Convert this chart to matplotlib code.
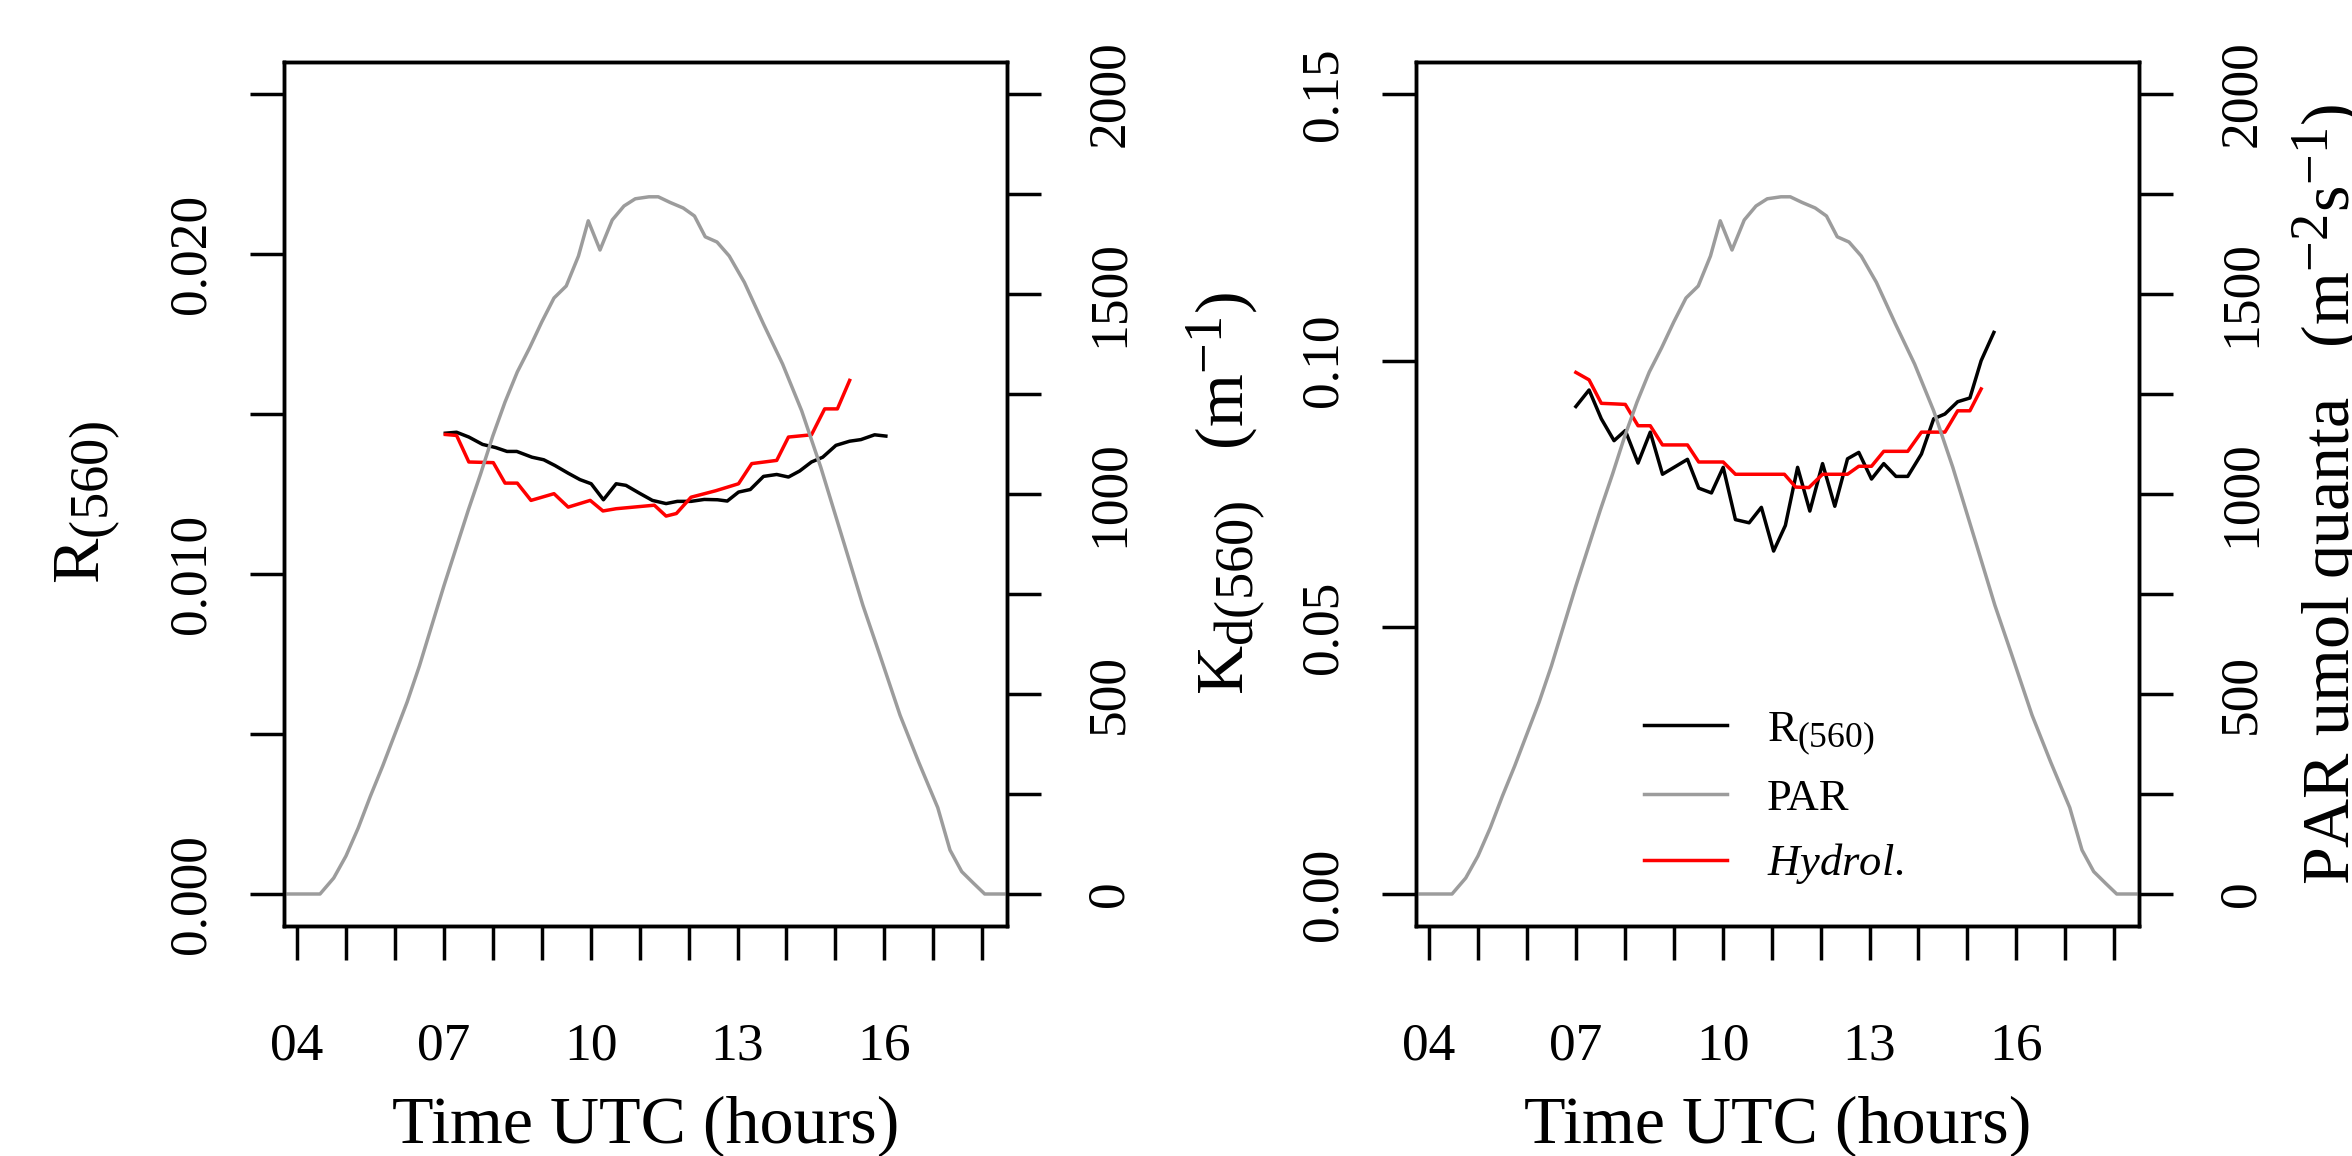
import matplotlib
matplotlib.use('Agg')
import matplotlib.pyplot as plt
try:
    import matplotlib._mathtext as _mt
    _mt.SHRINK_FACTOR = 0.8
except Exception:
    pass

plt.rcParams['font.family'] = ['Liberation Serif', 'DejaVu Serif']
plt.rcParams['mathtext.fontset'] = 'custom'
plt.rcParams['mathtext.rm'] = 'Liberation Serif'
plt.rcParams['mathtext.it'] = 'Liberation Serif:italic'
plt.rcParams['mathtext.bf'] = 'Liberation Serif:bold'

# ---------------- data ----------------
par_time = [3.70, 4.00, 4.25, 4.47, 4.75, 5.00, 5.25, 5.50, 5.75, 6.00, 6.25, 6.50,
            6.75, 7.00, 7.25, 7.50, 7.75, 8.00, 8.25, 8.50, 8.75, 9.00, 9.25, 9.50,
            9.75, 9.95, 10.19, 10.44, 10.68, 10.91, 11.19, 11.38, 11.62, 11.89, 12.12,
            12.34, 12.58, 12.83, 13.14, 13.53, 13.92, 14.31, 14.70, 14.98, 15.21, 15.56,
            15.90, 16.32, 16.70, 17.09, 17.34, 17.58, 17.82, 18.05, 18.55]
par_values = [0, 0, 0, 0, 40, 95, 165, 245, 320, 400, 480, 570,
              670, 770, 865, 960, 1050, 1145, 1230, 1305, 1365, 1430, 1490, 1520,
              1595, 1683, 1610, 1685, 1720, 1738, 1743, 1743, 1729, 1715, 1695,
              1643, 1630, 1595, 1529, 1425, 1325, 1208, 1067, 955, 863, 722,
              600, 447, 330, 216, 110, 56, 27, 0, 0]

r560_time = [7.03, 7.26, 7.51, 7.79, 8.06, 8.29, 8.49, 8.80, 9.04, 9.27, 9.54, 9.78,
             10.01, 10.26, 10.52, 10.72, 10.99, 11.26, 11.54, 11.77, 12.05, 12.32, 12.59,
             12.79, 13.02, 13.26, 13.53, 13.80, 14.04, 14.27, 14.51, 14.74, 15.01, 15.29,
             15.52, 15.80, 16.03]
r560_values = [0.01440, 0.01443, 0.01428, 0.01405, 0.01395, 0.01383, 0.01383, 0.01365,
               0.01357, 0.01339, 0.01315, 0.01295, 0.01282, 0.01232, 0.01282, 0.01277,
               0.01253, 0.01230, 0.01220, 0.01227, 0.01227, 0.01233, 0.01232, 0.01228,
               0.01256, 0.01264, 0.01305, 0.01311, 0.01303, 0.01322, 0.01350, 0.01365,
               0.01402, 0.01415, 0.01420, 0.01435, 0.01431]

hydrol_r_time = [7.03, 7.26, 7.51, 8.01, 8.25, 8.50, 8.78, 9.25, 9.54, 9.99, 10.25,
                 10.52, 11.30, 11.54, 11.75, 12.05, 12.55, 13.02, 13.29, 13.80, 14.04,
                 14.51, 14.78, 15.04, 15.29]
hydrol_r_values = [0.01436, 0.01433, 0.01350, 0.01348, 0.01284, 0.01284, 0.01230,
                   0.01251, 0.01209, 0.01230, 0.01197, 0.01204, 0.01215, 0.01181,
                   0.01189, 0.01240, 0.01260, 0.01282, 0.01345, 0.01355, 0.01428,
                   0.01435, 0.01516, 0.01516, 0.01605]

kd_time = [7.00, 7.27, 7.52, 7.78, 8.01, 8.27, 8.52, 8.77, 9.28, 9.51, 9.77, 10.01,
           10.26, 10.54, 10.79, 11.04, 11.28, 11.53, 11.78, 12.04, 12.29, 12.55, 12.78,
           13.04, 13.29, 13.54, 13.78, 14.06, 14.31, 14.54, 14.80, 15.05, 15.28, 15.54]
kd_values = [0.0914, 0.0945, 0.0891, 0.0850, 0.0869, 0.0808, 0.0866, 0.0787, 0.0815,
             0.0761, 0.0752, 0.0800, 0.0702, 0.0696, 0.0725, 0.0643, 0.0691, 0.0800,
             0.0718, 0.0807, 0.0727, 0.0816, 0.0828, 0.0778, 0.0807, 0.0783, 0.0783,
             0.0825, 0.0891, 0.0900, 0.0923, 0.0930, 0.1000, 0.1053]

hydrol_kd_time = [7.00, 7.27, 7.52, 7.78, 8.01, 8.27, 8.52, 8.77, 9.28, 9.51, 10.01,
                  10.26, 11.26, 11.49, 11.76, 12.04, 12.55, 12.78, 13.04, 13.29, 13.78,
                  14.06, 14.31, 14.54, 14.80, 15.05, 15.28]
hydrol_kd_values = [0.0978, 0.0964, 0.0920, 0.0919, 0.0918, 0.0878, 0.0878, 0.0842,
                    0.0842, 0.0810, 0.0810, 0.0787, 0.0787, 0.0763, 0.0762, 0.0787,
                    0.0787, 0.0802, 0.0802, 0.0830, 0.0830, 0.0866, 0.0866, 0.0866,
                    0.0906, 0.0906, 0.0947]

x_ticks = list(range(4, 19))
x_tick_labels = ['04', '', '', '07', '', '', '10', '', '', '13', '', '', '16', '', '']
r_ticks = [0.0, 0.005, 0.010, 0.015, 0.020, 0.025]
r_tick_labels = ['0.000', '', '0.010', '', '0.020', '']
kd_ticks = [0.0, 0.05, 0.10, 0.15]
kd_tick_labels = ['0.00', '0.05', '0.10', '0.15']
par_ticks = [0, 250, 500, 750, 1000, 1250, 1500, 1750, 2000]
par_tick_labels = ['0', '', '500', '', '1000', '', '1500', '', '2000']

legend_labels = [r'$\mathrm{R}_{(560)}$', 'PAR', r'$\mathit{Hydrol.}$']

# ---------------- styling ----------------
W, H = 2352, 1156
DPI = 100
TICK_FS = 38.5
LAB_FS = 49
LEG_FS = 32
LW = 2.5
TICK_LEN = 24.5
GREY = '#9c9c9c'

fig = plt.figure(figsize=(W / DPI, H / DPI), dpi=DPI)

def px_axes(x0, y_top, w, h):
    return fig.add_axes([x0 / W, 1 - (y_top + h) / H, w / W, h / H])

ax1 = px_axes(284, 62, 723.3, 864)
ax2 = px_axes(1416, 62, 723.3, 864)

XLIM = (3.734, 18.511)

def style_main(ax, yticks, ylabels, ylim):
    ax.set_xlim(*XLIM)
    ax.set_ylim(*ylim)
    ax.set_xticks(x_ticks)
    ax.set_xticklabels(x_tick_labels)
    ax.set_yticks(yticks)
    ax.set_yticklabels(ylabels)
    for s in ax.spines.values():
        s.set_linewidth(LW)
    ax.tick_params(axis='both', direction='out', length=TICK_LEN, width=LW,
                   labelsize=TICK_FS)
    ax.tick_params(axis='x', pad=45)
    ax.tick_params(axis='y', pad=25, labelrotation=90)
    for t in ax.get_yticklabels():
        t.set_va('center')

def style_par(ax):
    ax.set_xlim(*XLIM)
    ax.set_ylim(-80, 2080)
    ax.set_yticks(par_ticks)
    ax.set_yticklabels(par_tick_labels)
    ax.tick_params(axis='y', direction='out', length=TICK_LEN, width=LW,
                   labelsize=TICK_FS, pad=32, labelrotation=90)
    for t in ax.get_yticklabels():
        t.set_va('center')
    for s in ax.spines.values():
        s.set_linewidth(LW)

# ---------------- left panel ----------------
ax1.plot(r560_time, r560_values, color='black', lw=LW, solid_joinstyle='round')
ax1.plot(hydrol_r_time, hydrol_r_values, color='red', lw=LW, solid_joinstyle='round')
style_main(ax1, r_ticks, r_tick_labels, (-0.001, 0.026))
ax1b = ax1.twinx()
ax1b.plot(par_time, par_values, color=GREY, lw=LW, solid_joinstyle='round')
style_par(ax1b)

ax1.text(0.5, -0.2512, 'Time UTC (hours)', transform=ax1.transAxes,
         ha='center', va='baseline', fontsize=LAB_FS)
ax1.text(-0.272, 0.49, r'$\mathrm{R}_{(560)}$', transform=ax1.transAxes,
         ha='center', va='center', rotation=90, fontsize=LAB_FS)

# ---------------- right panel ----------------
ax2.plot(kd_time, kd_values, color='black', lw=LW, solid_joinstyle='round')
ax2.plot(hydrol_kd_time, hydrol_kd_values, color='red', lw=LW, solid_joinstyle='round')
style_main(ax2, kd_ticks, kd_tick_labels, (-0.006, 0.156))
ax2b = ax2.twinx()
ax2b.plot(par_time, par_values, color=GREY, lw=LW, solid_joinstyle='round')
style_par(ax2b)

ax2.text(0.5, -0.2512, 'Time UTC (hours)', transform=ax2.transAxes,
         ha='center', va='baseline', fontsize=LAB_FS)
ax2.text(-0.262, 0.5, r'$\mathrm{K}_{\mathrm{d}(560)}\ \ \ (\mathrm{m}^{-1})$',
         transform=ax2.transAxes, ha='center', va='center', rotation=90,
         fontsize=LAB_FS)
ax2.text(1.290, 0.5, r'PAR umol quanta  $\ (\mathrm{m}^{-2}\mathrm{s}^{-1})$',
         transform=ax2.transAxes, ha='center', va='baseline', rotation=90,
         rotation_mode='anchor', fontsize=LAB_FS)

# legend (right panel)
h_r, = ax2b.plot([], [], color='black', lw=LW)
h_p, = ax2b.plot([], [], color=GREY, lw=LW)
h_h, = ax2b.plot([], [], color='red', lw=LW)
ax2b.legend([h_r, h_p, h_h], legend_labels, loc='center left',
            bbox_to_anchor=(1644 / W, 1 - 798 / H), bbox_transform=fig.transFigure,
            frameon=False, fontsize=LEG_FS, handlelength=1.86, handletextpad=0.9,
            labelspacing=0.5, borderpad=0, borderaxespad=0)

fig.savefig('out.png', dpi=DPI)
